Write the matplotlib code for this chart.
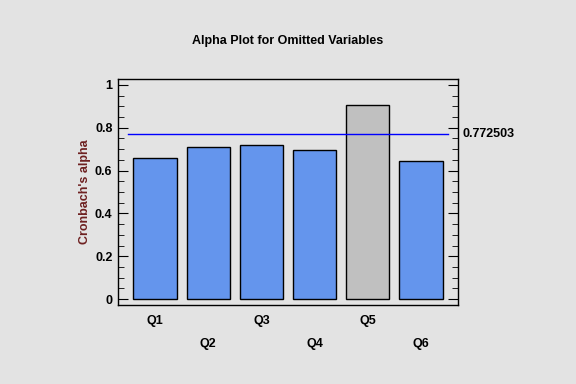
import numpy as np
import matplotlib.pyplot as plt
from matplotlib.ticker import MultipleLocator

# data
items = ["Q1", "Q2", "Q3", "Q4", "Q5", "Q6"]
alpha_omitted = [0.659, 0.710, 0.720, 0.696, 0.906, 0.645]
overall_alpha = 0.772503
bar_colors = ["#6495ED", "#6495ED", "#6495ED", "#6495ED", "#C0C0C0", "#6495ED"]

plt.rcParams["font.family"] = ["Liberation Sans", "DejaVu Sans"]

bg = "#E3E3E3"
fig = plt.figure(figsize=(5.76, 3.84), dpi=100, facecolor=bg)
ax = fig.add_axes([118 / 576, 1 - 305 / 384, 340 / 576, 226 / 384])
ax.set_facecolor(bg)

x = np.arange(1, len(items) + 1)
ax.bar(x, alpha_omitted, width=0.82, color=bar_colors, edgecolor="black", linewidth=1.0, zorder=2)
ax.plot([0.49, 6.51], [overall_alpha, overall_alpha], color="#0000FF", linewidth=1.0, zorder=3)

ax.set_xlim(0.3, 6.7)
ax.set_ylim(-0.028, 1.028)

ax.yaxis.set_minor_locator(MultipleLocator(0.05))
ax.set_yticks([0, 0.2, 0.4, 0.6, 0.8, 1.0])
ax.set_yticklabels(["0", "0.2", "0.4", "0.6", "0.8", "1"], fontsize=9, fontweight="bold")
ax.tick_params(axis="y", which="both", direction="in", left=True, right=True, pad=4)
ax.tick_params(axis="y", which="major", length=7)
ax.tick_params(axis="y", which="minor", length=4)

ax.set_xticks([])
for i, (xi, lab) in enumerate(zip(x, items)):
    yoff = -0.071 if i % 2 == 0 else -0.173
    ax.text(xi, yoff, lab, ha="center", va="center", fontsize=9, fontweight="bold",
            transform=ax.get_xaxis_transform(), clip_on=False)

for s in ax.spines.values():
    s.set_linewidth(1.0)

ax.text(1.012, overall_alpha, f"{overall_alpha:.6f}", ha="left", va="center", fontsize=9,
        fontweight="bold", transform=ax.get_yaxis_transform(), clip_on=False)

ax.set_ylabel("Cronbach's alpha", fontsize=9, fontweight="bold", color="#6E2020", labelpad=3)
fig.text(0.5, 1 - 41 / 384, "Alpha Plot for Omitted Variables", ha="center", va="center",
         fontsize=9, fontweight="bold")

fig.savefig("out.png", dpi=100, facecolor=bg)
